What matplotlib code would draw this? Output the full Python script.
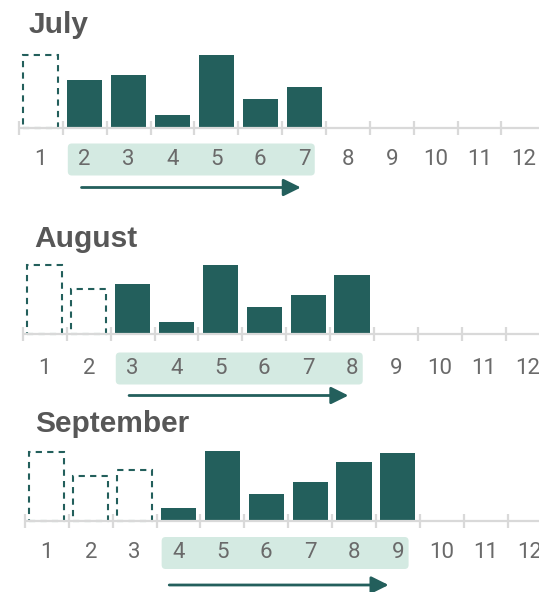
import matplotlib
matplotlib.use("Agg")
import matplotlib.pyplot as plt
from matplotlib.patches import Rectangle, FancyBboxPatch, FancyArrowPatch

# ---- data ----
months = list(range(1, 13))
month_labels = [str(m) for m in months]
values = [68.5, 44.7, 50.2, 12.2, 69.2, 26.8, 38.9, 58.8, 67.2]
panel_titles = ["July", "August", "September"]
window_start = [2, 3, 4]   # first month of the 6-month window
window_end = [7, 8, 9]     # last month of the window

# ---- style ----
BAR = "#235f5c"
BOX = "#d4eae2"
AXIS = "#d9d9d9"
LABEL = "#6a6a6a"
TITLE = "#575757"
FONT = ["Roboto", "DejaVu Sans"]
TFONT = ["Liberation Sans", "DejaVu Sans"]

W, H = 539, 592
DPI = 100
fig = plt.figure(figsize=(W / DPI, H / DPI), dpi=DPI)

SP = 43.87  # px per month
layout = [
    dict(off=18.9, base=127.5, k=1.053, ly=159.5, ay=187.5, ash=-3.2, tx=28.5, ty=33),
    dict(off=23.0, base=333.7, k=1.0, ly=368.5, ay=395.5, ash=-3.6, tx=34, ty=247),
    dict(off=25.0, base=520.5, k=1.0, ly=553.0, ay=585.0, ash=-9.3, tx=35, ty=432),
]

for p, L in enumerate(layout):
    ax = fig.add_axes([0, 0, 1, 1])
    ax.set_axis_off()
    ax.patch.set_alpha(0)
    off, base, k = L["off"], L["base"], L["k"]
    x0 = 0.5 - off / SP
    x1 = 0.5 + (W - off) / SP
    ax.set_xlim(x0, x1)
    ax.set_ylim(-(H - base) / k, base / k)

    def py(px):
        return (base - px) / k

    ws, we = window_start[p], window_end[p]
    # bars
    for m in range(1, we + 1):
        v = values[m - 1]
        if m < ws:
            r = Rectangle((m - 0.4, 0), 0.8, v, fill=False, edgecolor=BAR,
                          linewidth=1.5, linestyle=(0, (3, 2.5)), zorder=2)
            ax.add_patch(r)
        else:
            ax.bar(m, v, width=0.8, color=BAR, zorder=2, linewidth=0)

    # axis line and ticks
    ax.plot([0.5, x1 + 1], [0, 0], color=AXIS, lw=1.6, zorder=3,
            solid_capstyle="butt")
    for t in range(0, 13):
        ax.plot([t + 0.5, t + 0.5], [py(base - 7), py(base + 7)], color=AXIS,
                lw=1.6, zorder=3, solid_capstyle="butt")

    # highlight box
    bl = ws - 16.9 / SP
    br = we + 10.7 / SP
    ly = L["ly"]
    rad = 4.0
    box = FancyBboxPatch((bl, py(ly + 16)), br - bl, 32 / k,
                         boxstyle="round,pad=0,rounding_size=%f" % (rad / SP),
                         mutation_aspect=SP / k,
                         facecolor=BOX, edgecolor="none", zorder=1)
    ax.add_patch(box)

    # labels
    for m, lab in zip(months, month_labels):
        ax.text(m, py(ly), lab, ha="center", va="center", fontsize=16,
                color=LABEL, family=FONT, fontweight="normal", zorder=4)

    # arrow
    ash = L["ash"] / SP
    arr = FancyArrowPatch((ws + ash, py(L["ay"])), (we + ash, py(L["ay"])),
                          arrowstyle="-|>,head_length=10.5,head_width=5.2",
                          mutation_scale=1, color=BAR, lw=2.0,
                          shrinkA=0, shrinkB=0, zorder=4)
    ax.add_patch(arr)

    fig.text(L["tx"] / W, 1 - L["ty"] / H, panel_titles[p], ha="left",
             va="baseline", fontsize=21.5, fontweight="bold", color=TITLE,
             family=TFONT)

fig.savefig("out.png", dpi=DPI)
